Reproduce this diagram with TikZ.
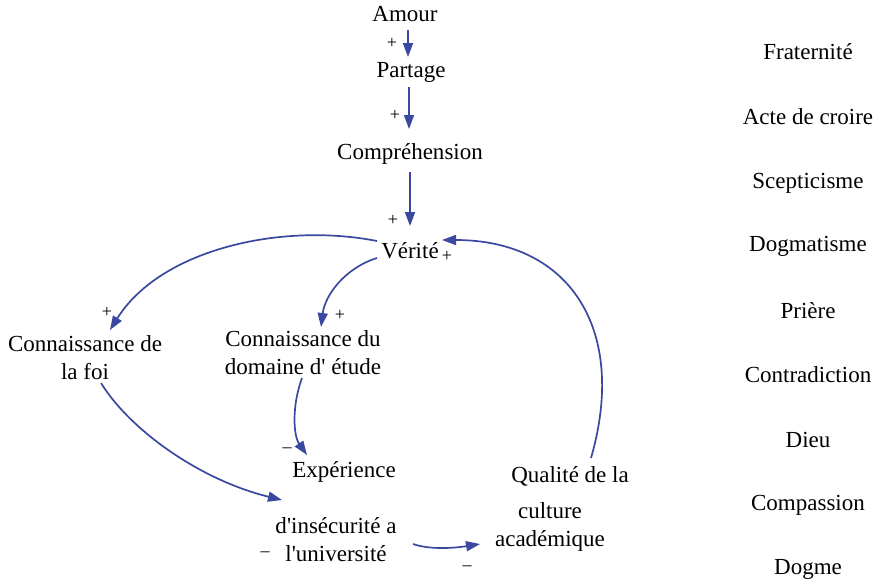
\documentclass[tikz,border=0pt]{standalone}
\usepackage{fontspec}
\setmainfont{Liberation Serif}
\usetikzlibrary{arrows.meta,calc}
\definecolor{linkblue}{RGB}{58,72,160}
\tikzset{
  lbl/.style={inner sep=0pt, align=center, font=\fontsize{23}{28}\selectfont},
  sgn/.style={inner sep=0pt, font=\fontsize{18}{20}\selectfont},
  arr/.style={draw=linkblue, line width=1.7pt, -{Triangle[length=14pt,width=10pt]}, fill=none}
}
\begin{document}
\begin{tikzpicture}[x=1pt,y=-1pt]
\useasboundingbox (0,0) rectangle (880,587);
% nodes
\node[lbl] (amour) at (405,14) {Amour};
\node[lbl] (partage) at (411,72) {Partage};
\node[lbl] (compr) at (410,154) {Compréhension};
\node[lbl] (verite) at (410,251) {Vérité};
\node[lbl] (foi) at (85,358) {Connaissance de\\la foi};
\node[lbl] (domaine) at (303,353) {Connaissance du\\domaine d\textquotesingle{} étude};
\node[lbl] (experience) at (344,472) {Expérience};
\node[lbl] (insecurite) at (336,539.5) {d\textquotesingle{}insécurité a\\l\textquotesingle{}université};
\node[lbl] (qualite) at (570,476) {Qualité de la};
\node[lbl] (culture) at (550,526.5) {culture\\académique};
% right column
\node[lbl] (r1) at (808,52) {Fraternité};
\node[lbl] (r2) at (808,117) {Acte de croire};
\node[lbl] (r3) at (808,183) {Scepticisme};
\node[lbl] (r4) at (808,246) {Dogmatisme};
\node[lbl] (r5) at (808,311) {Prière};
\node[lbl] (r6) at (808,375) {Contradiction};
\node[lbl] (r7) at (808,440) {Dieu};
\node[lbl] (r8) at (808,505) {Compassion};
\node[lbl] (r9) at (808,569) {Dogme};
% links
\draw[arr] ($(amour)+(3,16)$) -- ($(partage)+(-3,-15)$);
\draw[arr] ($(partage)+(-2,15)$) -- ($(compr)+(-1,-25)$);
\draw[arr] ($(compr)+(0,18)$) -- ($(verite)+(0,-25)$);
\draw[arr] ($(verite)+(-33,-10)$) .. controls (280,222) and (160,250) .. ($(foi)+(25,-28)$);
\draw[arr] ($(verite)+(-33,7)$) .. controls (345,268) and (325,295) .. ($(domaine)+(18,-26)$);
\draw[arr] ($(domaine)+(-1,25)$) .. controls (292,405) and (293,435) .. ($(experience)+(-37,-17)$);
\draw[arr] ($(foi)+(16,25)$) .. controls (130,430) and (200,480) .. ($(insecurite)+(-54,-39.5)$);
\draw[arr] ($(insecurite)+(77,4.5)$) .. controls (430,550) and (455,548) .. ($(culture)+(-70,17.5)$);
\draw[arr] ($(qualite)+(21,-18)$) .. controls (628,330) and (570,240) .. ($(verite)+(32,-11)$);
% polarity signs
\node[sgn] (s1) at (392,43) {+};
\node[sgn] (s2) at (395,115) {+};
\node[sgn] (s3) at (393,220) {+};
\node[sgn] (s4) at (447,256) {+};
\node[sgn] (s5) at (107,312) {+};
\node[sgn] (s6) at (340,315) {+};
\node[sgn] (s7) at (287,450) {–};
\node[sgn] (s8) at (265,554) {–};
\node[sgn] (s9) at (467,568) {–};
\end{tikzpicture}
\end{document}
